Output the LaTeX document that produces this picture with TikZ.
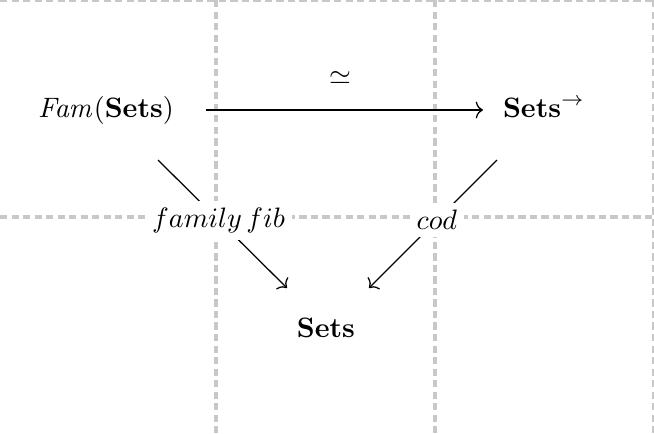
\documentclass[tikz,border=0pt]{standalone}
\usepackage{amsmath,amssymb}
\usetikzlibrary{arrows.meta}
\begin{document}
\begin{tikzpicture}[x=0.356pt,y=-0.356pt,
  gridline/.style={draw={rgb,255:red,200;green,200;blue,200},line width=1.1pt,dash pattern=on 2.6pt off 1.5pt},
  obj/.style={inner sep=2pt},
  mor/.style={draw,line width=0.45pt,-{To[length=2.6pt,width=6pt]}},
  lab/.style={fill=white,inner sep=2.5pt}]
\useasboundingbox (0,0) rectangle (654,434);
\begin{scope}
\clip (0,0) rectangle (654,434);
\draw[gridline] (216,0) -- (216,434);
\draw[gridline] (435,0) -- (435,434);
\draw[gridline] (654,0) -- (654,434);
\draw[gridline] (0,0) -- (654,0);
\draw[gridline] (0,217) -- (654,217);
\end{scope}
\node[obj] (fam) at (106,110) {$\mathit{Fam}(\mathbf{Sets})$};
\node[obj] (arr) at (544,108) {$\mathbf{Sets}^{\rightarrow}$};
\node[obj] (sets) at (326,328) {$\mathbf{Sets}$};
\coordinate (h1) at (206,110);
\coordinate (h2) at (483,110);
\draw[mor] (h1) -- (h2);
\node (eq) at (340,78) {$\simeq$};
\coordinate (l1) at (158,160);
\coordinate (l2) at (287,288);
\coordinate (r1) at (497,160);
\coordinate (r2) at (369,288);
\draw[mor] (l1) -- (l2) node[lab,pos=0.47] (lf) {$family\,fib$};
\draw[mor] (r1) -- (r2) node[lab,pos=0.47] (lc) {$cod$};
\end{tikzpicture}
\end{document}
